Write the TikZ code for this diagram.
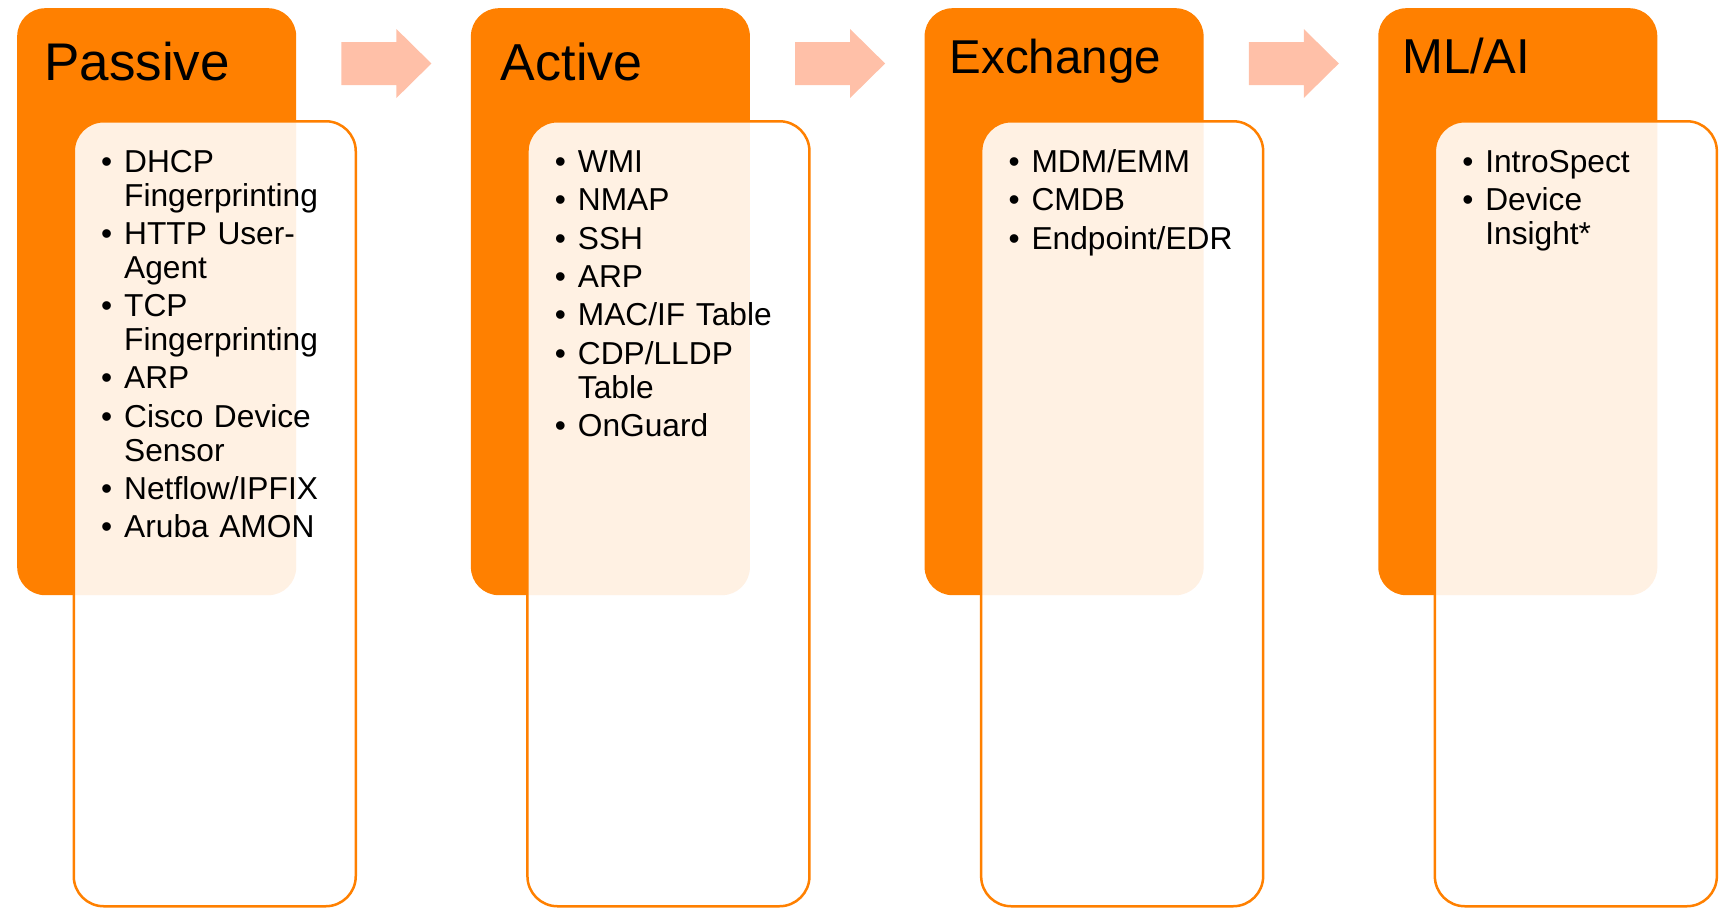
\documentclass[tikz,border=0pt]{standalone}
\usepackage{fontspec}
\setmainfont{Liberation Sans}
\usetikzlibrary{positioning}
\definecolor{phaseorange}{RGB}{255,128,0}
\definecolor{arrowpeach}{RGB}{255,192,168}
\tikzstyle{phase}=[fill=phaseorange,rounded corners=28pt,minimum width=279pt,minimum height=587pt,inner sep=0pt,anchor=north west]
\tikzstyle{listbox}=[draw=phaseorange,line width=2.5pt,fill=white,fill opacity=0.89,rounded corners=30pt,minimum width=282pt,minimum height=785pt,inner sep=0pt]
\tikzstyle{title}=[anchor=base west,inner sep=0pt]
\tikzstyle{items}=[anchor=north west,inner sep=0pt,text width=250pt,align=left,font=\fontsize{31.7}{33.8}\selectfont]
\tikzstyle{flow}=[fill=arrowpeach]
\newcommand{\bitem}[1]{\par\noindent\hangindent=23pt\hangafter=1\strut\makebox[23pt][l]{\textbullet}#1\par}
\newcommand{\listsetup}{\parindent=0pt\parskip=4.6pt}

\begin{document}
\begin{tikzpicture}[x=1pt,y=-1pt]
    \useasboundingbox (0,0) rectangle (1722,908);

    % orange phase boxes
    \node[phase] (passive) at (17,8) {};
    \node[phase, right=174.3pt of passive] (active) {};
    \node[phase, right=174.3pt of active] (exchange) {};
    \node[phase, right=174.3pt of exchange] (mlai) {};

    % list boxes
    \node[listbox, below right=112pt and 55.5pt of passive.north west] (passivelist) {};
    \node[listbox, below right=112pt and 55.5pt of active.north west] (activelist) {};
    \node[listbox, below right=112pt and 55.5pt of exchange.north west] (exchangelist) {};
    \node[listbox, below right=112pt and 55.5pt of mlai.north west] (mlailist) {};

    % arrows
    \foreach \a in {passive, active, exchange}
        \fill[flow] ([xshift=45pt,yshift=-34pt]\a.north east) -- ++(55,0) -- ++(0,-13)
            -- ++(35,34.5) -- ++(-35,34.5) -- ++(0,-13) -- ++(-55,0) -- cycle;

    % titles
    \node[title, font=\fontsize{53}{60}\selectfont] (passivetitle) at ([xshift=27pt,yshift=-72pt]passive.north west) {Passive};
    \node[title, font=\fontsize{52}{60}\selectfont] (activetitle) at ([xshift=30pt,yshift=-72pt]active.north west) {Active};
    \node[title, font=\fontsize{47.5}{54}\selectfont] (exchangetitle) at ([xshift=25pt,yshift=-65pt]exchange.north west) {Exchange};
    \node[title, font=\fontsize{49}{56}\selectfont] (mlaititle) at ([xshift=24pt,yshift=-65pt]mlai.north west) {ML/AI};

    % lists
    \node[items] (passivetext) at ([xshift=84pt,yshift=-125.6pt]passive.north west) {\listsetup
        \bitem{DHCP\newline Fingerprinting}
        \bitem{HTTP User-\newline Agent}
        \bitem{TCP\newline Fingerprinting}
        \bitem{ARP}
        \bitem{Cisco Device\newline Sensor}
        \bitem{Netflow/IPFIX}
        \bitem{Aruba AMON}};
    \node[items] (activetext) at ([xshift=84pt,yshift=-125.6pt]active.north west) {\listsetup
        \bitem{WMI}
        \bitem{NMAP}
        \bitem{SSH}
        \bitem{ARP}
        \bitem{MAC/IF Table}
        \bitem{CDP/LLDP\newline Table}
        \bitem{OnGuard}};
    \node[items] (exchangetext) at ([xshift=84pt,yshift=-125.6pt]exchange.north west) {\listsetup
        \bitem{MDM/EMM}
        \bitem{CMDB}
        \bitem{Endpoint/EDR}};
    \node[items] (mlaitext) at ([xshift=84pt,yshift=-125.6pt]mlai.north west) {\listsetup
        \bitem{IntroSpect}
        \bitem{Device\newline Insight*}};
\end{tikzpicture}
\end{document}
